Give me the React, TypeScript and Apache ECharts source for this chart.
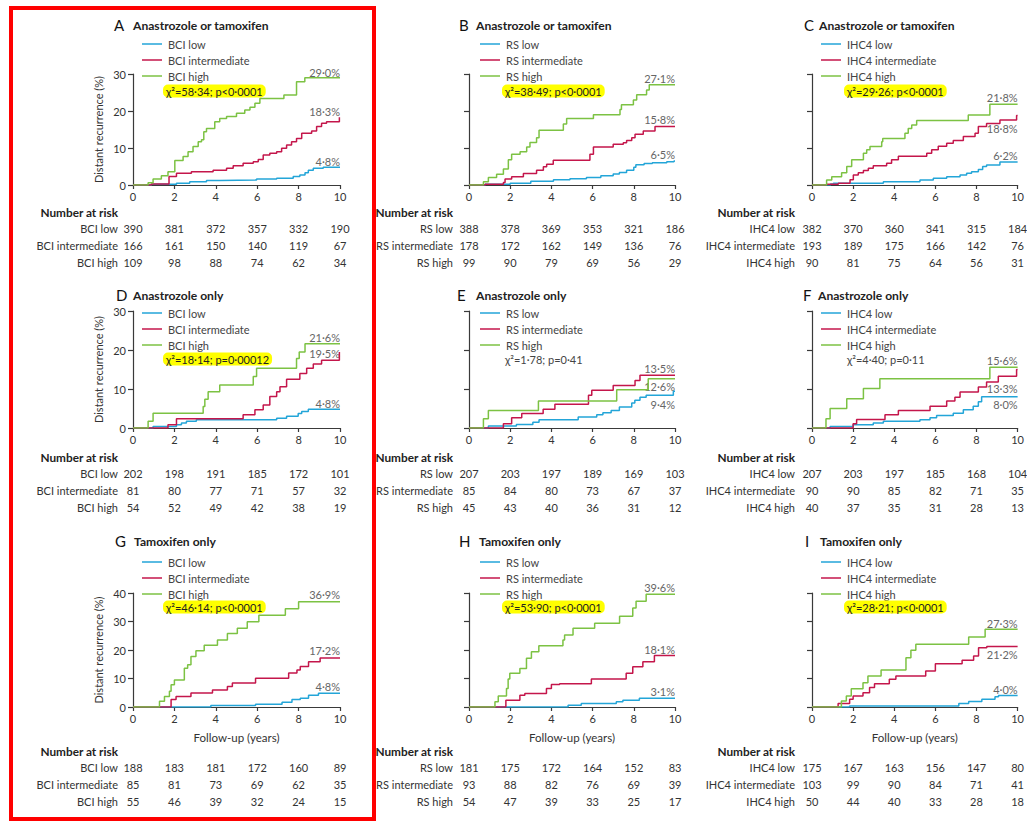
import React, { useEffect, useRef } from 'react';
import * as echarts from 'echarts';

// ---------- curve data (years, cumulative % distant recurrence) ----------
const aLow = [[0,0],[0.89,0.2],[2.1,0.45],[2.74,0.9],[3.55,1.2],[4.19,1.35],[5.97,1.6],[6.94,1.8],[7.74,2.3],[8.06,2.7],[8.31,3.3],[8.47,4.0],[8.71,4.5],[9.19,4.8],[10,4.8]];
const aInt = [[0,0],[0.89,0.3],[1.74,2.3],[2.1,3.2],[2.82,3.6],[3.87,4.0],[4.52,4.5],[4.84,5.2],[5.32,5.9],[5.81,6.3],[6.05,6.9],[6.29,8.1],[6.61,8.6],[6.94,9.0],[7.18,9.9],[7.42,10.8],[7.66,11.7],[7.9,12.6],[8.15,14.0],[8.63,14.6],[8.87,15.8],[9.11,16.7],[9.35,17.1],[9.97,18.3],[10,18.3]];
const aHigh = [[0,0],[0.73,0.6],[0.97,1.6],[1.37,2.5],[1.69,3.6],[2.02,6.6],[2.42,7.7],[2.66,9.0],[2.9,10.4],[3.15,11.7],[3.31,12.2],[3.42,14.4],[3.55,15.3],[3.95,17.1],[4.19,18.0],[4.52,18.5],[5.0,19.4],[5.4,20.3],[5.65,21.0],[5.89,22.1],[6.13,23.4],[7.29,24.3],[7.9,27.9],[8.3,29.0],[10,29.0]];

const bLow = [[0,0],[0.78,0.2],[2.0,0.5],[3.0,1.0],[4.1,1.4],[4.9,1.7],[5.7,2.0],[6.4,2.5],[7.0,3.0],[7.3,3.4],[7.65,4.0],[8.0,4.8],[8.1,5.5],[8.5,5.8],[8.9,6.0],[9.6,6.3],[9.95,6.5],[10,6.5]];
const bInt = [[0,0],[0.78,0.2],[1.67,0.7],[1.75,1.6],[2.07,2.2],[2.64,3.1],[3.28,4.0],[3.61,4.9],[3.77,5.6],[4.09,6.7],[5.87,8.3],[6.04,10.3],[7.0,11.0],[7.49,11.4],[7.65,12.0],[7.9,12.8],[8.06,13.7],[8.46,14.6],[9.03,15.8],[10,15.8]];
const bHigh = [[0,0],[0.7,0.9],[0.94,2.0],[1.34,2.9],[1.67,4.3],[1.91,6.8],[2.07,8.3],[2.48,9.0],[2.8,10.3],[2.96,11.5],[3.28,12.8],[3.4,14.8],[4.58,16.5],[4.74,18.0],[6.04,19.0],[7.33,20.4],[7.4,21.7],[7.98,23.0],[8.14,24.4],[8.62,25.7],[8.75,27.1],[10,27.1]];

const cLow = [[0,0],[0.9,0.3],[1.04,0.5],[3.47,0.9],[5.25,1.35],[5.9,1.8],[6.55,2.25],[7.2,2.7],[7.52,3.2],[7.76,3.6],[8.09,4.2],[8.3,5.0],[8.49,5.4],[9.14,6.2],[10,6.2]];
const cInt = [[0,0],[0.71,0.2],[1.28,0.5],[1.85,1.4],[2.01,2.7],[2.25,3.3],[2.5,3.9],[2.74,4.5],[2.98,5.2],[3.63,5.9],[3.87,6.8],[4.2,7.8],[5.58,8.6],[5.82,9.5],[6.14,10.5],[6.55,11.3],[6.87,12.0],[7.36,13.1],[7.93,14.0],[8.09,15.8],[8.49,16.6],[9.14,17.6],[9.95,18.8],[10,18.8]];
const cHigh = [[0,0],[0.71,1.35],[0.96,2.25],[1.44,3.3],[1.69,5.0],[1.93,6.8],[2.5,8.6],[2.66,9.5],[2.82,10.4],[3.39,11.7],[3.44,12.6],[4.52,14.0],[4.68,15.3],[4.85,16.2],[5.09,17.4],[7.6,18.9],[8.65,21.8],[10,21.8]];

const dLow = [[0,0],[0.97,0.4],[2.1,0.85],[2.34,1.3],[2.58,1.7],[3.06,2.1],[6.94,2.5],[7.42,3.0],[7.98,3.7],[8.15,4.2],[8.47,4.8],[10,4.8]];
const dInt = [[0,0],[1.69,0.85],[2.1,2.4],[5.32,3.4],[5.89,4.7],[6.29,5.9],[6.61,8.1],[6.94,9.3],[7.1,10.6],[7.42,12.5],[8.06,14.0],[8.39,15.3],[8.71,16.4],[9.11,17.4],[9.97,19.5],[10,19.5]];
const dHigh = [[0,0],[0.73,1.7],[0.97,3.8],[3.39,5.5],[3.47,7.4],[3.63,9.3],[4.19,11.0],[5.81,13.2],[5.97,15.3],[7.9,17.8],[8.03,19.5],[8.31,21.6],[10,21.6]];

const eLow = [[0,0],[0.94,0.5],[2.3,0.9],[3.1,1.5],[3.4,2.1],[5.3,2.8],[6.2,3.4],[6.5,3.9],[6.9,4.5],[7.3,5.4],[7.9,6.4],[8.05,7.1],[8.3,7.9],[8.6,8.4],[9.92,9.4],[10,9.4]];
const eInt = [[0,0],[1.67,1.1],[2.07,2.6],[2.56,3.7],[3.6,4.8],[4.17,6.1],[5.8,8.4],[5.96,9.7],[7.0,10.9],[8.06,12.2],[8.3,13.5],[10,13.5]];
const eHigh = [[0,0],[0.7,2.4],[0.94,4.5],[3.37,6.9],[7.17,9.8],[8.7,12.6],[10,12.6]];

const fLow = [[0,0],[0.88,0.4],[2.0,0.85],[2.98,1.3],[3.47,1.7],[5.25,2.1],[5.74,2.6],[6.06,3.2],[6.87,3.8],[7.36,4.7],[7.84,5.6],[8.09,6.7],[8.25,8.0],[10,8.0]];
const fInt = [[0,0],[2.0,1.1],[2.17,2.2],[3.55,3.4],[4.2,4.5],[5.74,5.6],[6.55,6.9],[6.95,7.9],[7.2,9.2],[8.09,10.5],[8.49,11.8],[9.06,13.3],[9.95,15.0],[10,15.0]];
const fHigh = [[0,0],[0.68,2.4],[0.88,5.0],[1.69,7.5],[2.5,10.1],[3.3,12.6],[8.65,15.6],[10,15.6]];

const gLow = [[0,0],[3.76,0.5],[5.92,1.0],[7.2,1.7],[7.68,2.6],[8.08,3.1],[8.48,4.1],[8.96,4.8],[10,4.8]];
const gInt = [[0,0],[1.84,2.6],[2.08,3.7],[2.8,4.9],[3.84,6.0],[4.56,7.2],[4.8,8.4],[5.92,10.1],[7.52,11.9],[7.92,13.0],[8.08,14.2],[8.48,15.9],[9.04,17.2],[10,17.2]];
const gHigh = [[0,0],[1.28,2.0],[1.52,3.7],[1.76,5.5],[1.84,7.8],[2.0,9.5],[2.48,13.6],[2.64,14.8],[2.8,17.7],[3.04,19.7],[3.44,21.7],[4.08,23.5],[4.56,25.8],[5.04,27.6],[5.52,29.9],[6.08,32.2],[7.36,34.5],[8.0,36.9],[10,36.9]];

const hLow = [[0,0],[4.81,0.6],[5.45,1.2],[7.15,1.8],[7.47,2.4],[8.27,3.1],[10,3.1]];
const hInt = [[0,0],[1.79,2.4],[2.47,4.1],[2.71,4.7],[3.76,6.5],[4.0,7.9],[4.4,8.2],[5.94,9.8],[7.63,11.8],[7.95,14.1],[8.44,15.9],[9.0,18.1],[10,18.1]];
const hHigh = [[0,0],[1.26,1.8],[1.42,3.9],[1.82,6.5],[1.9,9.8],[1.98,11.8],[2.47,13.5],[2.79,17.1],[3.03,19.4],[3.39,21.5],[4.56,23.5],[4.64,25.3],[5.05,27.6],[6.1,29.4],[7.31,31.8],[7.95,34.7],[8.11,37.1],[8.6,39.6],[10,39.6]];

const iLow = [[0,0],[1.83,0.35],[7.14,1.2],[7.62,1.9],[8.26,2.7],[8.9,3.6],[9.07,4.0],[10,4.0]];
const iInt = [[0,0],[1.27,1.2],[1.83,2.7],[2.0,3.9],[2.48,5.0],[2.8,6.8],[3.04,8.2],[3.76,9.7],[4.08,10.9],[5.53,12.6],[6.0,15.2],[7.3,16.4],[7.86,17.9],[8.1,20.8],[8.5,21.2],[10,21.2]];
const iHigh = [[0,0],[1.43,2.1],[1.67,3.9],[1.91,6.4],[2.48,8.5],[2.72,10.9],[3.36,13.0],[4.57,17.3],[4.81,19.9],[5.05,22.0],[7.62,24.6],[8.42,27.3],[10,27.3]];

// ---------- numbers at risk (years 0,2,4,6,8,10) ----------
const riskTicks = [0, 2, 4, 6, 8, 10];
const aRisk = [[390,381,372,357,332,190],[166,161,150,140,119,67],[109,98,88,74,62,34]];
const bRisk = [[388,378,369,353,321,186],[178,172,162,149,136,76],[99,90,79,69,56,29]];
const cRisk = [[382,370,360,341,315,184],[193,189,175,166,142,76],[90,81,75,64,56,31]];
const dRisk = [[202,198,191,185,172,101],[81,80,77,71,57,32],[54,52,49,42,38,19]];
const eRisk = [[207,203,197,189,169,103],[85,84,80,73,67,37],[45,43,40,36,31,12]];
const fRisk = [[207,203,197,185,168,104],[90,90,85,82,71,35],[40,37,35,31,28,13]];
const gRisk = [[188,183,181,172,160,89],[85,81,73,69,62,35],[55,46,39,32,24,15]];
const hRisk = [[181,175,172,164,152,83],[93,88,82,76,69,39],[54,47,39,33,25,17]];
const iRisk = [[175,167,163,156,147,80],[103,99,90,84,71,41],[50,44,40,33,28,18]];

// ---------- texts ----------
const letters = ['A','B','C','D','E','F','G','H','I'];
const titles = ['Anastrozole or tamoxifen','Anastrozole or tamoxifen','Anastrozole or tamoxifen','Anastrozole only','Anastrozole only','Anastrozole only','Tamoxifen only','Tamoxifen only','Tamoxifen only'];
const markers = ['BCI','RS','IHC4'];
const groupNames = ['low','intermediate','high'];
const chiTexts = ['χ²=58·34; p<0·0001','χ²=38·49; p<0·0001','χ²=29·26; p<0·0001','χ²=18·14; p=0·00012','χ²=1·78; p=0·41','χ²=4·40; p=0·11','χ²=46·14; p<0·0001','χ²=53·90; p<0·0001','χ²=28·21; p<0·0001'];
const chiHighlighted = [true,true,true,true,false,false,true,true,true];
const endLabels = [
  ['4·8%','18·3%','29·0%'], ['6·5%','15·8%','27·1%'], ['6·2%','18·8%','21·8%'],
  ['4·8%','19·5%','21·6%'], ['9·4%','13·5%','12·6%'], ['8·0%','13·3%','15·6%'],
  ['4·8%','17·2%','36·9%'], ['3·1%','18·1%','39·6%'], ['4·0%','21·2%','27·3%'],
];
const yMaxes = [30,30,30,30,30,30,40,40,40];

const curves = [[aLow,aInt,aHigh],[bLow,bInt,bHigh],[cLow,cInt,cHigh],[dLow,dInt,dHigh],[eLow,eInt,eHigh],[fLow,fInt,fHigh],[gLow,gInt,gHigh],[hLow,hInt,hHigh],[iLow,iInt,iHigh]];
const risks = [aRisk,bRisk,cRisk,dRisk,eRisk,fRisk,gRisk,hRisk,iRisk];

// ---------- layout / style ----------
const COLORS = ['#23a5d8', '#c4164b', '#7cc243'];
const FONT = 'Lato, "Open Sans", "DejaVu Sans", sans-serif';
const AXIS = '#3a3a3a';
const TXT = '#333';
const COL_X = [133, 469, 812];
const COL_W = [207, 206, 206];
const ROWS = [{ top: 74, h: 111 }, { top: 311, h: 117 }, { top: 593, h: 114 }];
const TITLE_Y = [25, 295, 541];
const LETTER_X = [[114, 459, 804], [116, 457, 803], [115, 459, 805]];
const TITLE_X = [[133, 476, 819], [133, 476, 818], [134, 479, 820]];
const LEG_Y = [44, 313, 562];
const LEG_LINE_X = [142, 480, 821];
const LEG_TEXT_X = [168, 506, 847];
const CHI_Y = [91, 359, 607];
const CHI_X = [163, 502, 844];
const RISK_LABEL_X = [118, 453, 795];
const RISK_HEAD_Y = [212, 457, 751];
const RISK_GAP = 16.7;
// vertical offsets of end labels relative to curve end (centre of text), per panel [low, int, high]
const END_DY = [
  [-6,-6,-5],[-6,-7,-6],[-7,13,-7],
  [-6,2,-6],[13,-7,8],[8,19,-7],
  [-7,-7,-7],[-7,-6,-7],[-6,8,-6],
];

export default function App() {
  const ref = useRef<HTMLDivElement>(null);
  useEffect(() => {
    const chart = echarts.init(ref.current as HTMLDivElement, null, { renderer: 'svg' });
    const grids: any[] = [], xAxes: any[] = [], yAxes: any[] = [], series: any[] = [];
    for (let i = 0; i < 9; i++) {
      const col = i % 3, row = Math.floor(i / 3);
      grids.push({ left: COL_X[col], top: ROWS[row].top, width: COL_W[col], height: ROWS[row].h, containLabel: false });
      xAxes.push({
        type: 'value', gridIndex: i, min: 0, max: 10, interval: 2,
        axisLine: { show: true, onZero: false, lineStyle: { color: AXIS, width: 1.2 } },
        axisTick: { show: true, length: 4, lineStyle: { color: AXIS, width: 1.2 } },
        axisLabel: { color: TXT, fontSize: 11, fontFamily: FONT, margin: 6 },
        splitLine: { show: false },
        name: row === 2 ? 'Follow-up (years)' : '',
        nameLocation: 'middle', nameGap: 24,
        nameTextStyle: { color: TXT, fontSize: 11.5, fontFamily: FONT },
      });
      yAxes.push({
        type: 'value', gridIndex: i, min: 0, max: yMaxes[i], interval: 10,
        axisLine: { show: true, lineStyle: { color: AXIS, width: 1.2 } },
        axisTick: { show: true, length: 5, lineStyle: { color: AXIS, width: 1.2 } },
        axisLabel: { show: col === 0, color: TXT, fontSize: 11, fontFamily: FONT, margin: 7 },
        splitLine: { show: false },
        name: col === 0 ? 'Distant recurrence (%)' : '',
        nameLocation: 'middle', nameGap: 29, nameRotate: 90,
        nameTextStyle: { color: TXT, fontSize: 11, fontFamily: FONT },
      });
      curves[i].forEach((c, k) => {
        series.push({
          type: 'line', name: markers[col] + ' ' + groupNames[k], xAxisIndex: i, yAxisIndex: i,
          data: c, step: 'end', symbol: 'none', showSymbol: false, silent: true,
          lineStyle: { color: COLORS[k], width: 1.5 }, itemStyle: { color: COLORS[k] }, z: 2 + k,
        });
      });
    }
    chart.setOption({ animation: false, backgroundColor: '#fff', grid: grids, xAxis: xAxes, yAxis: yAxes, series });

    const g: any[] = [];
    const text = (x: number, y: number, t: string, extra: any = {}) => g.push({
      type: 'text', x, y, silent: true,
      style: { text: t, fontSize: 11, fontFamily: FONT, fill: TXT, align: 'left', verticalAlign: 'middle', ...extra },
    });
    for (let i = 0; i < 9; i++) {
      const col = i % 3, row = Math.floor(i / 3);
      text(LETTER_X[row][col], TITLE_Y[row], letters[i], { fontSize: 15, fill: '#111' });
      text(TITLE_X[row][col], TITLE_Y[row], titles[i], { fontWeight: 'bold', fontSize: 12.1, fill: '#222' });
      for (let k = 0; k < 3; k++) {
        const y = LEG_Y[row] + k * 16;
        g.push({ type: 'line', silent: true, shape: { x1: LEG_LINE_X[col], y1: y, x2: LEG_LINE_X[col] + 20, y2: y }, style: { stroke: COLORS[k], lineWidth: 1.5 } });
        text(LEG_TEXT_X[col], y, markers[col] + ' ' + groupNames[k], { fill: '#444' });
      }
      if (chiHighlighted[i]) {
        text(CHI_X[col], CHI_Y[row], chiTexts[i], { backgroundColor: '#ffff00', padding: [1, 3, 1, 3], borderRadius: 5, fill: '#222' });
      } else {
        text(CHI_X[col] + 3, CHI_Y[row], chiTexts[i], { fill: '#444' });
      }
      // end labels
      curves[i].forEach((c, k) => {
        const last = c[c.length - 1];
        const p = chart.convertToPixel({ gridIndex: i }, [last[0], last[1]]) as number[];
        text(p[0], p[1] + END_DY[i][k], endLabels[i][k], { align: 'right', fill: '#666' });
      });
      // number at risk table
      text(RISK_LABEL_X[col], RISK_HEAD_Y[row], 'Number at risk', { align: 'right', fontWeight: 'bold', fontSize: 11.8, fill: '#222' });
      for (let k = 0; k < 3; k++) {
        const y = RISK_HEAD_Y[row] + (k + 1) * RISK_GAP;
        text(RISK_LABEL_X[col], y, markers[col] + ' ' + groupNames[k], { align: 'right' });
        riskTicks.forEach((t, j) => {
          const px = chart.convertToPixel({ xAxisIndex: i }, t) as number;
          text(px, y, String(risks[i][k][j]), { align: 'center' });
        });
      }
    }
    g.push({ type: 'rect', silent: true, z: 100, shape: { x: 11, y: 8, width: 363, height: 811 }, style: { fill: 'none', stroke: '#ff0000', lineWidth: 4 } });
    chart.setOption({ graphic: g });
    return () => chart.dispose();
  }, []);
  return <div ref={ref} style={{ position: 'absolute', left: 0, top: 0, width: 1027, height: 823 }} />;
}
